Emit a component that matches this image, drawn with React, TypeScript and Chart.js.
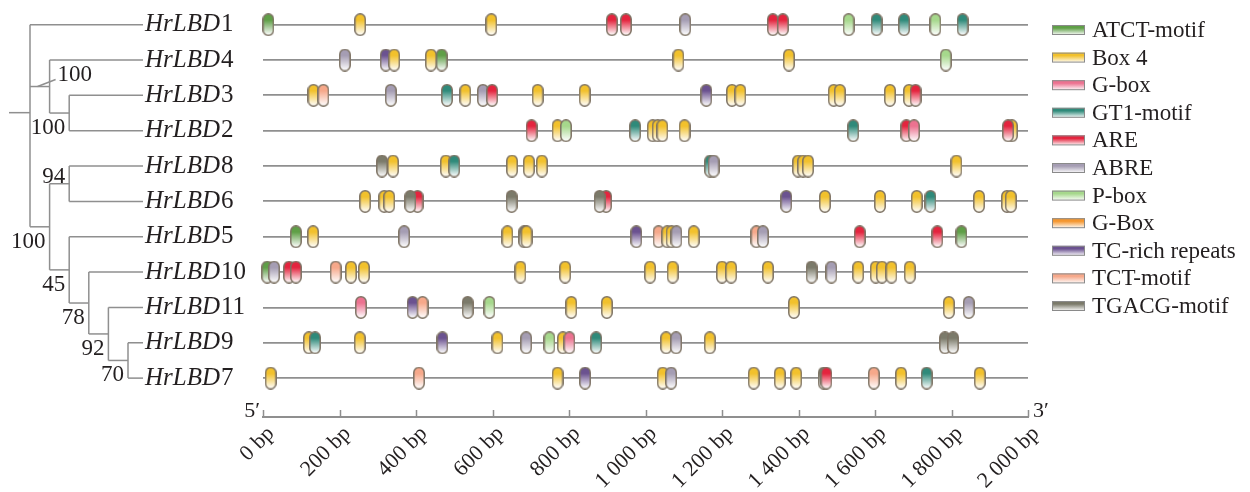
import { useEffect, useRef } from 'react';
import { Chart, registerables } from 'chart.js';

Chart.register(...registerables);

// ---------- data ----------
const genes = ['HrLBD1', 'HrLBD4', 'HrLBD3', 'HrLBD2', 'HrLBD8', 'HrLBD6', 'HrLBD5', 'HrLBD10', 'HrLBD11', 'HrLBD9', 'HrLBD7'];

const motifTypes = ['ATCT-motif', 'Box 4', 'G-box', 'GT1-motif', 'ARE', 'ABRE', 'P-box', 'G-Box', 'TC-rich repeats', 'TCT-motif', 'TGACG-motif'];
const motifColors = ['#5f9f47', '#f2c12c', '#ec7290', '#2f8a7a', '#e4243e', '#a59db3', '#a6d88c', '#f5962e', '#6b5290', '#f6a88a', '#7b7a6a'];

type Site = [string, number];

const lbd1: Site[] = [['ATCT-motif', 14], ['Box 4', 254], ['Box 4', 597], ['ARE', 912], ['ARE', 949], ['ABRE', 1104], ['ARE', 1333], ['ARE', 1359], ['P-box', 1531], ['GT1-motif', 1604], ['GT1-motif', 1676], ['P-box', 1758], ['GT1-motif', 1829]];
const lbd4: Site[] = [['ABRE', 214], ['TC-rich repeats', 321], ['Box 4', 343], ['Box 4', 439], ['ATCT-motif', 467], ['Box 4', 1086], ['Box 4', 1375], ['P-box', 1785]];
const lbd3: Site[] = [['Box 4', 132], ['TCT-motif', 158], ['ABRE', 334], ['GT1-motif', 481], ['Box 4', 529], ['ABRE', 575], ['ARE', 599], ['Box 4', 718], ['Box 4', 841], ['TC-rich repeats', 1159], ['Box 4', 1226], ['Box 4', 1248], ['Box 4', 1492], ['Box 4', 1508], ['Box 4', 1639], ['Box 4', 1689], ['ARE', 1706]];
const lbd2: Site[] = [['ARE', 702], ['Box 4', 770], ['P-box', 792], ['GT1-motif', 973], ['Box 4', 1019], ['Box 4', 1032], ['Box 4', 1044], ['Box 4', 1102], ['GT1-motif', 1543], ['ARE', 1682], ['G-box', 1702], ['Box 4', 1958], ['ARE', 1948]];
const lbd8: Site[] = [['TGACG-motif', 311], ['Box 4', 340], ['Box 4', 478], ['GT1-motif', 500], ['Box 4', 651], ['Box 4', 695], ['Box 4', 729], ['GT1-motif', 1169], ['ABRE', 1178], ['Box 4', 1399], ['Box 4', 1412], ['Box 4', 1425], ['Box 4', 1813]];
const lbd6: Site[] = [['Box 4', 267], ['Box 4', 317], ['Box 4', 330], ['ARE', 404], ['TGACG-motif', 385], ['TGACG-motif', 650], ['ARE', 897], ['TGACG-motif', 880], ['TC-rich repeats', 1368], ['Box 4', 1469], ['Box 4', 1613], ['Box 4', 1709], ['GT1-motif', 1745], ['Box 4', 1872], ['Box 4', 1945], ['Box 4', 1955]];
const lbd5: Site[] = [['ATCT-motif', 86], ['Box 4', 131], ['ABRE', 369], ['Box 4', 639], ['TGACG-motif', 683], ['Box 4', 689], ['TC-rich repeats', 976], ['TCT-motif', 1034], ['Box 4', 1057], ['Box 4', 1068], ['ABRE', 1081], ['Box 4', 1126], ['TCT-motif', 1290], ['ABRE', 1307], ['ARE', 1560], ['ARE', 1763], ['ATCT-motif', 1826]];
const lbd10: Site[] = [['ATCT-motif', 11], ['ABRE', 29], ['ARE', 68], ['ARE', 86], ['TCT-motif', 190], ['Box 4', 230], ['Box 4', 264], ['Box 4', 673], ['Box 4', 790], ['Box 4', 1012], ['Box 4', 1071], ['Box 4', 1200], ['Box 4', 1224], ['Box 4', 1320], ['TGACG-motif', 1434], ['ABRE', 1486], ['Box 4', 1556], ['Box 4', 1602], ['Box 4', 1618], ['Box 4', 1643], ['Box 4', 1691]];
const lbd11: Site[] = [['G-box', 256], ['TC-rich repeats', 391], ['TCT-motif', 417], ['TGACG-motif', 535], ['P-box', 592], ['Box 4', 806], ['Box 4', 899], ['Box 4', 1388], ['Box 4', 1793], ['ABRE', 1845]];
const lbd9: Site[] = [['Box 4', 120], ['GT1-motif', 136], ['Box 4', 253], ['TC-rich repeats', 469], ['Box 4', 613], ['ABRE', 688], ['P-box', 749], ['Box 4', 784], ['G-box', 801], ['GT1-motif', 871], ['Box 4', 1054], ['ABRE', 1080], ['Box 4', 1168], ['TGACG-motif', 1783], ['TGACG-motif', 1804]];
const lbd7: Site[] = [['Box 4', 20], ['TCT-motif', 408], ['Box 4', 770], ['TC-rich repeats', 842], ['Box 4', 1045], ['ABRE', 1067], ['Box 4', 1283], ['Box 4', 1351], ['Box 4', 1394], ['TGACG-motif', 1466], ['ARE', 1473], ['TCT-motif', 1597], ['Box 4', 1668], ['GT1-motif', 1735], ['Box 4', 1874]];

const geneSites: Site[][] = [lbd1, lbd4, lbd3, lbd2, lbd8, lbd6, lbd5, lbd10, lbd11, lbd9, lbd7];

const axisMin = 0;
const axisMax = 2000;
const axisStep = 200;

type TreeNode = string | { support?: number; place?: 'above' | 'below' | 'slash'; children: TreeNode[] };

const tree: TreeNode = {
  children: [
    'HrLBD1',
    { support: 100, place: 'slash', children: ['HrLBD4', { support: 100, place: 'below', children: ['HrLBD3', 'HrLBD2'] }] },
    {
      support: 100, place: 'below', children: [
        { support: 94, place: 'above', children: ['HrLBD8', 'HrLBD6'] },
        {
          support: 45, place: 'below', children: [
            'HrLBD5',
            {
              support: 78, place: 'below', children: [
                'HrLBD10',
                { support: 92, place: 'below', children: ['HrLBD11', { support: 70, place: 'below', children: ['HrLBD9', 'HrLBD7'] }] },
              ],
            },
          ],
        },
      ],
    },
  ],
};

// ---------- styles ----------
const TEXT = '#231f20';
const LINE = '#8f8f8f';
const SERIF = '"Liberation Serif", "Times New Roman", serif';

function makePill(color: string): HTMLCanvasElement {
  const w = 12;
  const h = 23;
  const c = document.createElement('canvas');
  c.width = w;
  c.height = h;
  const ctx = c.getContext('2d')!;
  const g = ctx.createLinearGradient(0, 0, 0, h);
  g.addColorStop(0, color);
  g.addColorStop(0.3, color);
  g.addColorStop(0.95, '#ffffff');
  ctx.fillStyle = g;
  ctx.beginPath();
  ctx.roundRect(0.8, 0.8, w - 1.6, h - 1.6, (w - 1.6) / 2);
  ctx.fill();
  ctx.strokeStyle = '#7d7263';
  ctx.lineWidth = 1.5;
  ctx.stroke();
  return c;
}

function fmtBp(v: number): string {
  const s = v >= 1000 ? `${Math.floor(v / 1000)} ${String(v % 1000).padStart(3, '0')}` : String(v);
  return `${s} bp`;
}

function line(ctx: CanvasRenderingContext2D, x1: number, y1: number, x2: number, y2: number) {
  ctx.beginPath();
  ctx.moveTo(x1, y1);
  ctx.lineTo(x2, y2);
  ctx.stroke();
}

const decorPlugin = {
  id: 'decor',
  afterDraw(chart: any) {
    const { ctx, chartArea } = chart;
    const x = chart.scales.x;
    const y = chart.scales.y;
    ctx.save();

    // upward tick marks on the bp axis
    const axisY = chartArea.bottom;
    ctx.strokeStyle = LINE;
    ctx.lineWidth = 1.5;
    x.ticks.forEach((t: any) => {
      const px = Math.round(x.getPixelForValue(t.value)) + 0.5;
      line(ctx, px, axisY, px, axisY - 7);
    });

    // 5' and 3'
    ctx.fillStyle = TEXT;
    ctx.font = `22px ${SERIF}`;
    ctx.textBaseline = 'alphabetic';
    ctx.textAlign = 'right';
    ctx.fillText('5\u2032', x.getPixelForValue(axisMin) - 3, axisY);
    ctx.textAlign = 'left';
    ctx.fillText('3\u2032', x.getPixelForValue(axisMax) + 5, axisY);

    // gene labels
    const labelX = 145;
    ctx.textBaseline = 'middle';
    genes.forEach((g, i) => {
      const py = y.getPixelForValue(i);
      const m = g.match(/^(\D+)(\d+)$/)!;
      ctx.font = `italic 25px ${SERIF}`;
      ctx.fillText(m[1], labelX, py);
      const w = ctx.measureText(m[1]).width;
      ctx.font = `25px ${SERIF}`;
      ctx.fillText(m[2], labelX + w + 1, py);
    });

    // tree
    const x0 = 30;
    const step = 19.6;
    const leafEnd = 143;
    ctx.strokeStyle = LINE;
    ctx.lineWidth = 1.5;
    ctx.font = `23px ${SERIF}`;
    const rowY = (g: string) => y.getPixelForValue(genes.indexOf(g));
    const drawNode = (node: TreeNode, depth: number): number => {
      if (typeof node === 'string') return rowY(node);
      const nx = x0 + depth * step;
      const ys = node.children.map((c) => {
        const cy = drawNode(c, depth + 1);
        const cx = typeof c === 'string' ? leafEnd : x0 + (depth + 1) * step;
        line(ctx, nx, cy, cx, cy);
        return cy;
      });
      line(ctx, nx, Math.min(...ys), nx, Math.max(...ys));
      const ny = ys.reduce((a, b) => a + b, 0) / ys.length;
      if (node.support != null) {
        ctx.fillStyle = TEXT;
        ctx.textBaseline = 'alphabetic';
        if (node.place === 'slash') {
          line(ctx, nx - 12, ny, nx + 6, ny - 7);
          ctx.textAlign = 'left';
          ctx.fillText(String(node.support), nx + 8, ny - 6);
        } else if (node.place === 'above') {
          ctx.textAlign = 'right';
          ctx.fillText(String(node.support), nx - 4, ny - 1);
        } else {
          ctx.textAlign = 'right';
          ctx.fillText(String(node.support), nx - 4, ny + 21);
        }
      }
      return ny;
    };
    const rootY = drawNode(tree, 0);
    line(ctx, x0 - 21, rootY, x0, rootY);

    // legend
    const lx = chartArea.right + 24;
    ctx.font = `23px ${SERIF}`;
    ctx.textAlign = 'left';
    ctx.textBaseline = 'middle';
    motifTypes.forEach((name, i) => {
      const cy = chartArea.top + 23 + i * 27.6;
      const g = ctx.createLinearGradient(0, cy - 5, 0, cy + 5);
      g.addColorStop(0, motifColors[i]);
      g.addColorStop(0.3, motifColors[i]);
      g.addColorStop(1, '#ffffff');
      ctx.fillStyle = g;
      ctx.fillRect(lx, cy - 5, 33, 10);
      ctx.strokeStyle = '#8a8a8a';
      ctx.lineWidth = 1;
      ctx.strokeRect(lx + 0.5, cy - 4.5, 32, 9);
      ctx.fillStyle = TEXT;
      ctx.fillText(name, lx + 40, cy + 1);
    });

    ctx.restore();
  },
};

export default function App() {
  const ref = useRef<HTMLCanvasElement>(null);

  useEffect(() => {
    if (!ref.current) return;
    const pills: Record<string, HTMLCanvasElement> = {};
    motifTypes.forEach((t, i) => {
      pills[t] = makePill(motifColors[i]);
    });

    const datasets = genes.map((g, r) => ({
      label: g,
      data: geneSites[r].map(([, bp]) => ({ x: bp, y: r })),
      pointStyle: geneSites[r].map(([t]) => pills[t]),
      pointRadius: 6,
      clip: false as any,
    }));

    const chart = new Chart(ref.current, {
      type: 'scatter',
      data: { datasets },
      options: {
        animation: false,
        responsive: true,
        maintainAspectRatio: false,
        events: [],
        layout: { padding: { left: 263, right: 222, top: 4, bottom: 0 } },
        plugins: { legend: { display: false }, tooltip: { enabled: false } },
        scales: {
          x: {
            type: 'linear',
            min: axisMin,
            max: axisMax,
            afterFit: (s: any) => {
              s.height = 75;
            },
            ticks: {
              stepSize: axisStep,
              autoSkip: false,
              minRotation: 45,
              maxRotation: 45,
              padding: 4,
              labelOffset: 8,
              color: TEXT,
              font: { family: SERIF, size: 22 },
              callback: (v: any) => fmtBp(Number(v)),
            },
            grid: { display: false, drawTicks: false },
            border: { display: true, color: LINE, width: 2 },
          },
          y: {
            type: 'linear',
            min: -0.5,
            max: 11.1,
            reverse: true,
            afterBuildTicks: (s: any) => {
              s.ticks = genes.map((_, i) => ({ value: i }));
            },
            ticks: { display: false },
            grid: { color: LINE, lineWidth: 1.8, drawTicks: false },
            border: { display: false },
          },
        },
      },
      plugins: [decorPlugin],
    });
    return () => chart.destroy();
  }, []);

  return (
    <div style={{ position: 'absolute', left: 0, top: 0, width: 1250, height: 492, background: '#fff' }}>
      <canvas ref={ref} />
    </div>
  );
}
